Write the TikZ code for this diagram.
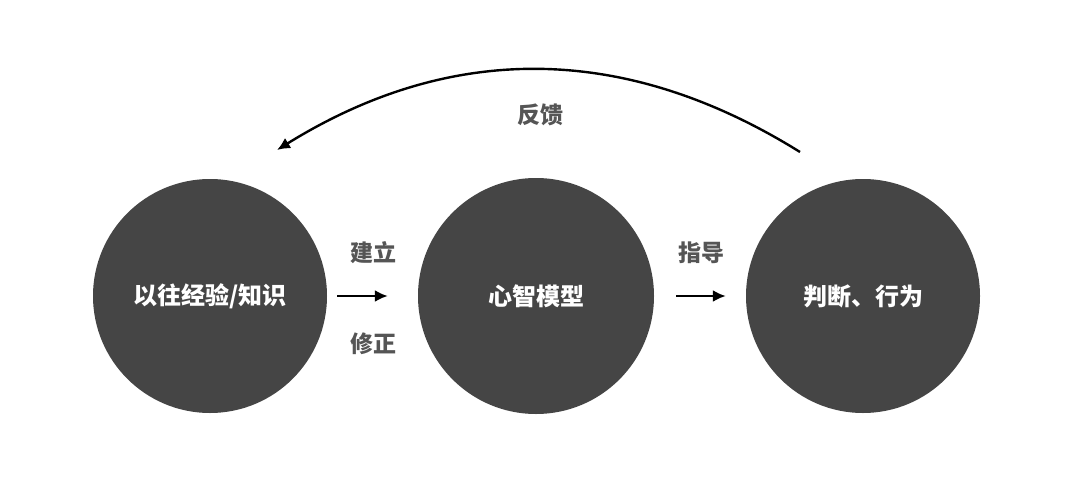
\documentclass[tikz,border=0pt]{standalone}
\usepackage{fontspec}
\setmainfont{Noto Sans CJK SC}
\usetikzlibrary{arrows.meta}
\definecolor{circfill}{HTML}{454545}
\definecolor{labgray}{HTML}{555555}
\tikzset{
  bigcircle/.style={circle, fill=circfill, draw=none, text=white, font=\bfseries\fontsize{24}{28}\selectfont, inner sep=0pt},
  lab/.style={text=labgray, font=\bfseries\fontsize{23}{27}\selectfont, inner sep=0pt},
  conn/.style={line width=2.4pt, -{Latex[length=13pt,width=12pt]}},
}
\begin{document}
\begin{tikzpicture}[x=1pt,y=-1pt]
\useasboundingbox (0,0) rectangle (1080,501);
\fill[white] (0,0) rectangle (1080,501);
\node[bigcircle, minimum size=234pt] (c1) at (210,296) {以往经验/知识};
\node[bigcircle, minimum size=236pt] (c2) at (536,296) {心智模型};
\node[bigcircle, minimum size=234pt] (c3) at (863,296) {判断、行为};
\node[lab] (l1) at (373,253) {建立};
\node[lab] (l2) at (373,344) {修正};
\node[lab] (l3) at (701,253) {指导};
\node[lab] (l4) at (540,115) {反馈};
\draw[conn, shorten <=10pt, shorten >=30pt] (c1.east) -- (c2.west);
\draw[conn, shorten <=22pt, shorten >=20pt] (c2.east) -- (c3.west);
\coordinate (fs) at (800,152);
\coordinate (fe) at (277,150);
\draw[conn, line width=2.4pt] (fs) .. controls (625,43) and (451,42) .. (fe);
\end{tikzpicture}
\end{document}
